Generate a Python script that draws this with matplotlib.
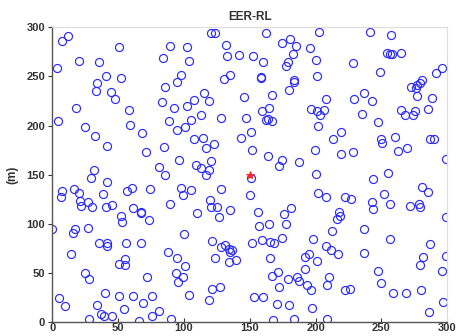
import matplotlib
matplotlib.use("Agg")
import matplotlib.pyplot as plt

# sensor node positions (m), grouped by region
node_x = [
    7.2, 12.2, 3.9, 20.6, 35.8, 51, 40.9, 34.2, 33, 52.5, 44.9, 47.7, 17.8, 58.1, 4.6,
    120.3, 123.4, 89.7, 102.4, 132, 84.4, 103.6, 132.7, 142.1, 98, 94.5, 85.6, 135.2, 130.7,
    115.5, 107.7, 119.1, 83.4, 92.5, 102.4, 113.2, 128.4, 88.7, 105.2,
    162.6, 202.6, 180.6, 174.7, 184.9, 195.7, 152.7, 159.8, 182.6, 179.3, 177.8, 200.1,
    158.5, 158.8, 183.4, 183.7, 201.3, 179.6, 166.7, 145.6, 208.1, 164.6, 159.5, 196.3,
    201.3, 206.4, 203.6, 147.2, 162.1, 166.7, 163.9,
    241.3, 257.3, 254.4, 256.5, 257.8, 264.8, 228.2, 248.9, 291.2, 296.2, 280.8, 279.3,
    272.4, 276, 277, 276.8, 236.5, 228.9, 242.8, 288.6, 264.8, 268.1, 274.2, 275.7, 285.1,
    235.2, 247.6,
    24.9, 59.3, 32.5, 68.4, 41.4, 31.7, 29.5, 41.4, 7.4, 6.7, 16.6, 20.1, 38.3, 56.6, 60.4,
    21.1, 21.6, 27.2, 30.4, 40.9, 45.2, 61.4, 67.2, 67.5, 52.5, 53.2,
    94.8, 101.1, 107.7, 114.8, 143.1, 71, 84.9, 117, 123.1, 96, 120.8, 80.9, 85.6, 109.2,
    113, 118.8, 117, 74.3, 97.6, 99.1, 105.6, 128.4, 89.7, 119.6, 120.8, 125.1, 134.8, 110,
    126.4, 73.5,
    201.8, 150.7, 213.2, 219, 151.9, 199.8, 219.5, 163.9, 174.7, 172.2, 187.4, 151, 200.5,
    150.2, 201.8, 208.1, 156.5, 181.3, 176.3, 217.6, 216.3, 218.5,
    249.9, 250.7, 260.3, 286.5, 290, 262.8, 269.2, 228.2, 298.8, 255.2, 243.6, 280.8, 285.3,
    222.6, 227.1, 251.7, 242.8, 243.4, 256.7, 271.7, 278.5, 279.3, 298.8,
    0.0, 17.3, 15.6, 27, 35.8, 41.8, 41.4, 55.8, 67.2, 14.3, 50.5, 55.3, 55.5, 24.9, 28.2,
    39.9, 50.7, 61.4, 68.7, 5.4, 9.7, 34.2, 36.8, 39.6, 45.6, 54.5, 27.7, 65.7,
    99.8, 121.3, 128.2, 131.4, 134.5, 136.5, 135, 87.9, 94.5, 123.6, 134.5, 139.3, 100.8,
    93.8, 99.1, 95.3, 72.2, 121.6, 127.2, 76, 103.6, 119.1, 81.3, 75.8, 90,
    157.3, 164.8, 177.3, 212.7, 151.7, 159.5, 165.4, 168.2, 174.7, 198.3, 207.9, 211.5, 217,
    165.4, 192.2, 195.2, 200.8, 171.2, 166.9, 192, 179, 186.1, 187.6, 172, 193.7, 196.3,
    209.9, 208.9, 153.5, 160.3, 170.9, 179.8, 197.5, 167.4, 183.6, 208.4,
    236.5, 256.7, 286.9, 236.5, 281.8, 279.5, 299, 247.2, 296, 249.7, 222.3, 225.9, 258.5,
    268.6, 280, 297, 286.3,
]
node_y = [
    285.8, 291.2, 258.7, 265.8, 264.8, 280.3, 250.5, 243.7, 235.2, 248.2, 234.2, 227.4, 217.6, 215.9, 204.7,
    294.6, 294.6, 281.4, 280.4, 282.4, 268.5, 265.5, 270.9, 272.2, 251.2, 244.1, 239.6, 251.8, 247.1,
    232.9, 226.4, 224.7, 224, 217.6, 220.3, 210.5, 208, 204.4, 205.7,
    294.6, 295.3, 288.5, 284.1, 281.4, 279, 270.9, 264.8, 272.6, 264.8, 261, 267.1,
    249.5, 248.3, 246, 244.8, 250.5, 236.3, 231.5, 229.4, 227.1, 218.2, 215.2, 216.9,
    214.6, 215.9, 210.8, 208, 205.7, 204.4, 207,
    295.3, 292, 274.2, 273.2, 272.6, 273.6, 263.8, 254.3, 253.6, 258.7, 246.1, 243.1,
    239.6, 238, 241, 230.1, 233.5, 227.1, 224.7, 228.1, 215.9, 210.5, 210.8, 214.6, 216.9,
    211.5, 203.7,
    198.9, 200.9, 189.7, 192.2, 178.9, 154.8, 147, 142.3, 133.7, 127, 135.4, 131, 130, 133.4, 136.2,
    123.2, 118.1, 121.9, 117.1, 117.1, 118.8, 116.1, 112, 110.8, 108.2, 102.1,
    195.5, 198.3, 186, 187.7, 187.1, 172.8, 178.2, 177.2, 180.9, 165, 164.3, 157.5, 150, 159.9,
    157.1, 154.8, 149.4, 135.4, 136.8, 129.3, 134.4, 135.4, 120.5, 124.2, 116.8, 116.8, 114.4, 111,
    107.2, 103.9,
    199.6, 193.8, 186.7, 193.8, 175.5, 175.5, 171.4, 168.7, 165, 159.2, 162.6, 146.6, 150.4,
    129.3, 131.4, 127.3, 112, 116.1, 110, 112.3, 104.6, 108,
    186, 182.6, 188.7, 186, 186, 174.4, 177.5, 172.8, 165.7, 151.4, 145.6, 137.2, 132.7,
    127.6, 124.9, 130.3, 121.9, 115.1, 120.5, 117.8, 119.9, 116.8, 106.6,
    94.7, 94.7, 90.3, 96, 80.1, 80.1, 77.4, 80.1, 80.8, 68.9, 59.4, 63.8, 58, 49.6, 44.1,
    29.5, 26.8, 26.2, 19.3, 24.8, 16.3, 17.3, 7.8, 6.4, 5.8, 13.2, 2.7, 1,
    89.9, 82.8, 76.7, 78.1, 74.6, 73.3, 71.6, 71.3, 65.5, 65.5, 61.4, 63.4, 56.7,
    49.6, 46.1, 40.4, 46.1, 33.6, 35.6, 26.8, 27.8, 22.4, 11.2, 6.4, 3.4,
    97.8, 99.5, 99.5, 93, 80.8, 83.5, 81.5, 80.8, 85.5, 84.5, 77.1, 73, 69.2,
    65.2, 66.2, 69.6, 61.8, 51.2, 47.1, 53.7, 44.1, 46.1, 41.8, 35.9, 37.4, 32.9,
    46.1, 37.7, 25.2, 25.8, 18, 17.3, 14.6, 2, 3.4, 3.4,
    95, 84.5, 79.4, 70.6, 66.5, 57.7, 67.2, 52.2, 51.6, 40, 32.3, 33.3, 29.8,
    29.8, 32.3, 20.4, 9.9,
]

# base station
sink_x = [150]
sink_y = [150]

ticks = [0, 50, 100, 150, 200, 250, 300]

plt.rcParams["font.family"] = ["Liberation Sans", "DejaVu Sans"]

fig = plt.figure(figsize=(4.57, 3.36), dpi=100)
ax = fig.add_axes([0.1142, 0.0417, 0.8646, 0.8771])

ax.plot(node_x, node_y, "o", mfc="none", mec="#2a2aff", ms=5.8, mew=0.85, ls="none")
ax.plot(sink_x, sink_y, "*", color="#ff2020", ms=6, mew=0.6)

ax.set_xlim(0, 300)
ax.set_ylim(0, 300)
ax.set_xticks(ticks)
ax.set_yticks(ticks)
ax.tick_params(axis="both", labelsize=8, colors="#333333", length=3, width=0.8)
ax.tick_params(axis="x", direction="in", pad=0.5)
ax.tick_params(axis="y", direction="out", pad=2)
for lbl in ax.get_xticklabels() + ax.get_yticklabels():
    lbl.set_fontweight("bold")

for side in ["left", "bottom"]:
    ax.spines[side].set_color("#555555")
    ax.spines[side].set_linewidth(1.0)
for side in ["top", "right"]:
    ax.spines[side].set_color("#dddddd")
    ax.spines[side].set_linewidth(0.8)

ax.set_title("EER-RL", fontsize=8.5, fontweight="bold", color="#333333", pad=5)
ax.set_ylabel("(m)", fontsize=8.5, fontweight="bold", color="#333333", labelpad=6)

fig.savefig("out.png", dpi=100)
